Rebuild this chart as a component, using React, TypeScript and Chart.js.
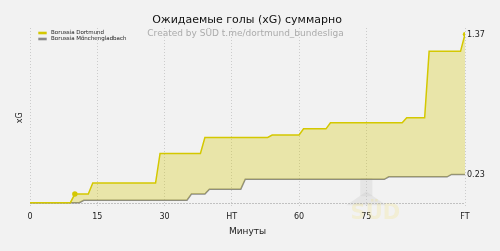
import React, { useEffect, useRef } from 'react';
import { Chart, registerables } from 'chart.js';

Chart.register(...registerables);

const dortmundMinutes = [0, 9, 10, 13, 14, 28, 29, 38, 39, 53, 54, 60, 61, 66, 67, 83, 84, 88, 89, 96, 97];
const dortmundXG = [0, 0, 0.07, 0.07, 0.16, 0.16, 0.4, 0.4, 0.53, 0.53, 0.55, 0.55, 0.6, 0.6, 0.65, 0.65, 0.69, 0.69, 1.23, 1.23, 1.37];
const dortmundMarkers = [10, 97];
const gladbachMinutes = [0, 11, 12, 35, 36, 39, 40, 47, 48, 79, 80, 93, 94, 97];
const gladbachXG = [0, 0, 0.02, 0.02, 0.07, 0.07, 0.11, 0.11, 0.19, 0.19, 0.21, 0.21, 0.23, 0.23];
const tickMinutes = [0, 15, 30, 45, 60, 75, 97];
const tickLabels = ['0', '15', '30', 'HT', '60', '75', 'FT'];
const teams = ['Borussia Dortmund', 'Borussia Mönchengladbach'];
const titleText = 'Ожидаемые голы (xG) суммарно';
const subtitleText = 'Created by SÜD t.me/dortmund_bundesliga';
const xTitle = 'Минуты';
const yTitle = 'xG';
const watermark = 'SÜD';

const YELLOW = 'rgb(212,200,0)';
const YELLOW_FILL = 'rgba(212,200,0,0.3)';
const GRAY = '#8a8a8a';
const FONT = '"DejaVu Sans", sans-serif';

export default function App() {
  const ref = useRef<HTMLCanvasElement | null>(null);

  useEffect(() => {
    document.body.style.margin = '0';
    const canvas = ref.current;
    if (!canvas) return;

    const decor = {
      id: 'decor',
      beforeDraw(chart: any) {
        const { ctx, width, height } = chart;
        ctx.save();
        ctx.fillStyle = '#f2f2f2';
        ctx.fillRect(0, 0, width, height);
        ctx.restore();
      },
      beforeDatasetsDraw(chart: any) {
        const { ctx } = chart;
        const x = chart.scales.x;
        const y = chart.scales.y;
        ctx.save();
        // watermark
        const wx = x.getPixelForValue(75);
        ctx.fillStyle = 'rgba(200,200,200,0.3)';
        ctx.beginPath();
        ctx.moveTo(wx - 20, y.getPixelForValue(-0.02));
        ctx.lineTo(wx, y.getPixelForValue(0.09));
        ctx.lineTo(wx + 20, y.getPixelForValue(-0.02));
        ctx.closePath();
        ctx.fill();
        ctx.fillRect(wx - 6, y.getPixelForValue(0.2), 12, 18);
        ctx.fillStyle = 'rgba(240,225,110,0.22)';
        ctx.font = `bold 21px ${FONT}`;
        ctx.textAlign = 'center';
        ctx.textBaseline = 'middle';
        ctx.fillText(watermark, wx + 9, y.bottom + 6);
        // zero line
        ctx.strokeStyle = 'rgba(160,160,160,0.6)';
        ctx.lineWidth = 1;
        ctx.setLineDash([2, 1]);
        const y0 = Math.round(y.getPixelForValue(0)) + 0.5;
        ctx.beginPath();
        ctx.moveTo(x.getPixelForValue(0), y0);
        ctx.lineTo(x.getPixelForValue(97), y0);
        ctx.stroke();
        ctx.restore();
      },
      afterDraw(chart: any) {
        const { ctx } = chart;
        const x = chart.scales.x;
        const y = chart.scales.y;
        ctx.save();
        ctx.textBaseline = 'middle';
        // title
        ctx.textAlign = 'center';
        ctx.fillStyle = '#111';
        ctx.font = `11px ${FONT}`;
        ctx.fillText(titleText, 247, 20.5);
        ctx.fillStyle = '#ababab';
        ctx.font = `9px ${FONT}`;
        ctx.fillText(subtitleText, 245.5, 34);
        // legend
        const colors = [YELLOW, GRAY];
        ctx.textAlign = 'left';
        ctx.font = `5.5px ${FONT}`;
        teams.forEach((t, i) => {
          const cy = 33 + i * 6;
          ctx.fillStyle = colors[i];
          ctx.fillRect(38.3, cy - 1.3, 8.4, 2.6);
          ctx.fillStyle = '#222';
          ctx.fillText(t, 51, cy);
        });
        // y title
        ctx.save();
        ctx.translate(20, (y.top + y.bottom) / 2);
        ctx.rotate(-Math.PI / 2);
        ctx.textAlign = 'center';
        ctx.fillStyle = '#222';
        ctx.font = `8px ${FONT}`;
        ctx.fillText(yTitle, 0, 0);
        ctx.restore();
        // end labels
        ctx.fillStyle = '#222';
        ctx.font = `8px ${FONT}`;
        ctx.textAlign = 'left';
        const lastD = dortmundXG[dortmundXG.length - 1];
        const lastG = gladbachXG[gladbachXG.length - 1];
        const ex = x.getPixelForValue(97) + 2;
        ctx.fillText(lastD.toFixed(2), ex, y.getPixelForValue(lastD) + 0.5);
        ctx.fillText(lastG.toFixed(2), ex, y.getPixelForValue(lastG) + 0.5);
        ctx.restore();
      },
    };

    const chart = new Chart(canvas, {
      type: 'line',
      data: {
        datasets: [
          {
            label: teams[0],
            data: dortmundMinutes.map((m, i) => ({ x: m, y: dortmundXG[i] })),
            borderColor: YELLOW,
            backgroundColor: YELLOW_FILL,
            borderWidth: 1.5,
            fill: '+1',
            tension: 0,
            pointRadius: dortmundMinutes.map((m) => (dortmundMarkers.includes(m) ? (m === 97 ? 2.2 : 2.7) : 0)),
            pointBackgroundColor: YELLOW,
            pointBorderWidth: 0,
            pointHoverRadius: 0,
          },
          {
            label: teams[1],
            data: gladbachMinutes.map((m, i) => ({ x: m, y: gladbachXG[i] })),
            borderColor: GRAY,
            backgroundColor: 'rgba(0,0,0,0)',
            borderWidth: 1.5,
            fill: false,
            tension: 0,
            pointRadius: 0,
            pointHoverRadius: 0,
          },
        ],
      },
      options: {
        responsive: false,
        animation: false,
        events: [],
        layout: { padding: { left: 30, right: 35, top: 28, bottom: 14 } },
        plugins: {
          legend: { display: false },
          title: { display: false },
          tooltip: { enabled: false },
        },
        scales: {
          x: {
            type: 'linear',
            min: 0,
            max: 97,
            afterBuildTicks: (scale: any) => {
              scale.ticks = tickMinutes.map((v) => ({ value: v }));
            },
            ticks: {
              autoSkip: false,
              maxRotation: 0,
              padding: 4.5,
              color: '#222',
              font: { family: FONT, size: 8 },
              callback: (v: any) => {
                const i = tickMinutes.indexOf(Number(v));
                return i >= 0 ? tickLabels[i] : '';
              },
            },
            grid: { color: 'rgba(200,200,200,0.9)', lineWidth: 1, drawTicks: false },
            border: { display: false, dash: [1, 2] },
            title: {
              display: true,
              text: xTitle,
              color: '#222',
              font: { family: FONT, size: 9 },
              padding: { top: 0, bottom: 0 },
            },
          },
          y: {
            type: 'linear',
            min: -0.04,
            max: 1.42,
            display: false,
          },
        },
      },
      plugins: [decor],
    } as any);

    return () => chart.destroy();
  }, []);

  return <canvas ref={ref} width={500} height={251} style={{ display: 'block' }} />;
}
